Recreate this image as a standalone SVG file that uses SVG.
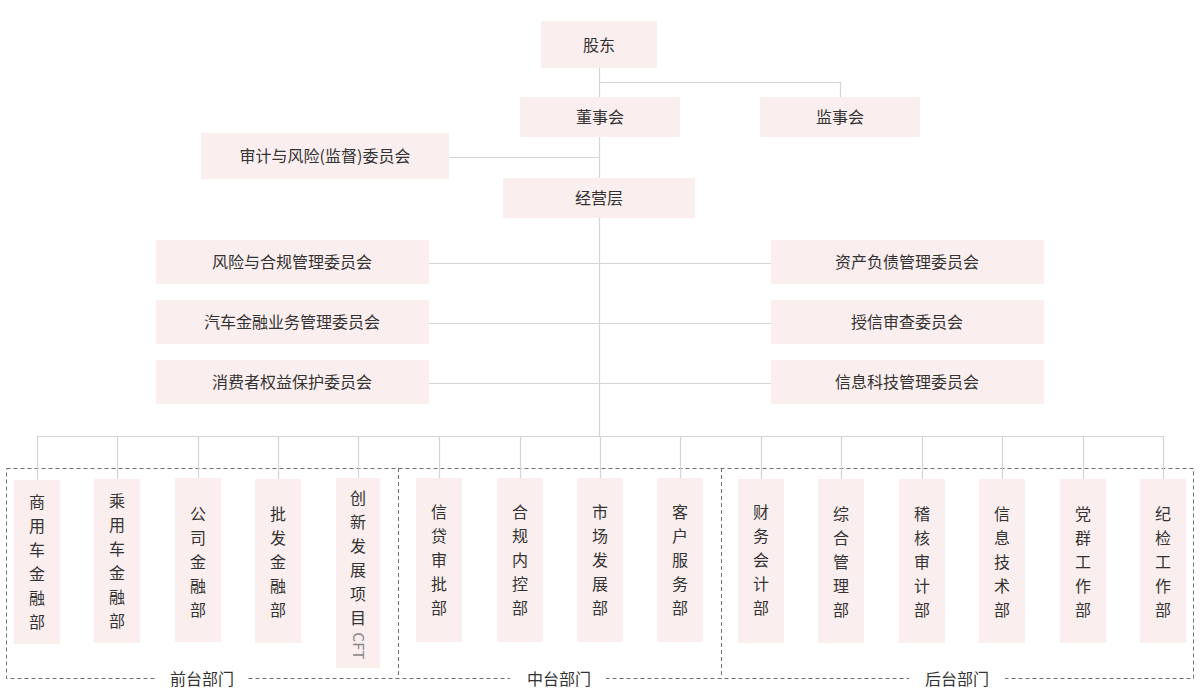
<svg xmlns="http://www.w3.org/2000/svg" width="1200" height="699" viewBox="0 0 1200 699">
<style>
.b{fill:#fbeeee}
.t{font-family:"Noto Sans CJK SC","Noto Sans",sans-serif;font-size:16px;fill:#333;text-anchor:middle}
.v{font-family:"Noto Sans CJK SC","Noto Sans",sans-serif;font-size:16px;fill:#333;text-anchor:middle}
.c{stroke:#d4d4d4;stroke-width:1.2;fill:none}
.d{stroke:#6f6f6f;stroke-width:1;stroke-dasharray:4 3;fill:none}
.g{font-family:"Noto Sans CJK SC","Noto Sans",sans-serif;font-size:16px;fill:#333;text-anchor:middle}
</style>
<rect width="1200" height="699" fill="#fff"/>
<g id="groups">
<rect class="d" x="6.5" y="468.5" width="1187" height="210"/>
<line class="d" x1="398.5" y1="468" x2="398.5" y2="678"/>
<line class="d" x1="721.5" y1="468" x2="721.5" y2="678"/>
<rect x="156" y="670" width="92" height="20" fill="#fff"/>
<rect x="510" y="670" width="96" height="20" fill="#fff"/>
<rect x="909" y="670" width="96" height="20" fill="#fff"/>
<text class="g" x="202" y="685">前台部门</text>
<text class="g" x="559" y="685">中台部门</text>
<text class="g" x="957" y="685">后台部门</text>
</g>
<g id="connectors">
<path class="c" d="M599.5 68V436M599.5 82.5H840.5V97M449 157.5H599M429 263.5H771M429 323.5H771M429 383.5H771M37.5 436.5H1163.5"/>
<path class="c" d="M37.5 436V480M117.5 436V479M198.5 436V478M278.5 436V479M358.5 436V478M439.5 436V478M520.5 436V478M600.5 436V478M680.5 436V478M761.5 436V479M841.5 436V479M922.5 436V479M1002.5 436V479M1083.5 436V479M1163.5 436V479"/>
</g>
<g id="n-gudong"><rect class="b" x="541" y="21" width="116" height="47"/><text class="t" x="599" y="51">股东</text></g>
<g id="n-dongshihui"><rect class="b" x="520" y="97" width="160" height="40"/><text class="t" x="600" y="123">董事会</text></g>
<g id="n-jianshihui"><rect class="b" x="760" y="97" width="160" height="40"/><text class="t" x="840" y="123">监事会</text></g>
<g id="n-shenji"><rect class="b" x="201" y="133" width="248" height="46"/><text class="t" x="325" y="162">审计与风险(监督)委员会</text></g>
<g id="n-jingying"><rect class="b" x="503" y="178" width="192" height="40"/><text class="t" x="599" y="204">经营层</text></g>
<g id="n-fengxian"><rect class="b" x="156" y="240" width="273" height="44"/><text class="t" x="292" y="268">风险与合规管理委员会</text></g>
<g id="n-qiche"><rect class="b" x="156" y="300" width="273" height="44"/><text class="t" x="292" y="328">汽车金融业务管理委员会</text></g>
<g id="n-xiaofei"><rect class="b" x="156" y="360" width="273" height="44"/><text class="t" x="292" y="388">消费者权益保护委员会</text></g>
<g id="n-zichan"><rect class="b" x="771" y="240" width="273" height="44"/><text class="t" x="907" y="268">资产负债管理委员会</text></g>
<g id="n-shouxin"><rect class="b" x="771" y="300" width="273" height="44"/><text class="t" x="907" y="328">授信审查委员会</text></g>
<g id="n-xinxikeji"><rect class="b" x="771" y="360" width="273" height="44"/><text class="t" x="907" y="388">信息科技管理委员会</text></g>

<g id="n-shangyongche"><rect class="b" x="14" y="480" width="46" height="164"/><text class="v" x="37" y="508"><tspan x="37">商</tspan><tspan x="37" dy="24">用</tspan><tspan x="37" dy="24">车</tspan><tspan x="37" dy="24">金</tspan><tspan x="37" dy="24">融</tspan><tspan x="37" dy="24">部</tspan></text></g>
<g id="n-chengyongche"><rect class="b" x="94" y="479" width="46" height="164"/><text class="v" x="117" y="507"><tspan x="117">乘</tspan><tspan x="117" dy="24">用</tspan><tspan x="117" dy="24">车</tspan><tspan x="117" dy="24">金</tspan><tspan x="117" dy="24">融</tspan><tspan x="117" dy="24">部</tspan></text></g>
<g id="n-gongsi"><rect class="b" x="175" y="478" width="46" height="164"/><text class="v" x="198" y="520"><tspan x="198">公</tspan><tspan x="198" dy="24">司</tspan><tspan x="198" dy="24">金</tspan><tspan x="198" dy="24">融</tspan><tspan x="198" dy="24">部</tspan></text></g>
<g id="n-pifa"><rect class="b" x="255" y="479" width="46" height="164"/><text class="v" x="278" y="520"><tspan x="278">批</tspan><tspan x="278" dy="24">发</tspan><tspan x="278" dy="24">金</tspan><tspan x="278" dy="24">融</tspan><tspan x="278" dy="24">部</tspan></text></g>
<g id="n-chuangxin"><rect class="b" x="336" y="478" width="44" height="190"/><text class="v" x="358" y="504"><tspan x="358">创</tspan><tspan x="358" dy="24">新</tspan><tspan x="358" dy="24">发</tspan><tspan x="358" dy="24">展</tspan><tspan x="358" dy="24">项</tspan><tspan x="358" dy="24">目</tspan></text><text transform="translate(353 646) rotate(90)" style="font-family:'Noto Sans CJK SC','Noto Sans',sans-serif;font-size:15px;fill:#888;text-anchor:middle">CFT</text></g>

<g id="n-xindai"><rect class="b" x="416" y="478" width="46" height="164"/><text class="v" x="439" y="518"><tspan x="439">信</tspan><tspan x="439" dy="24">贷</tspan><tspan x="439" dy="24">审</tspan><tspan x="439" dy="24">批</tspan><tspan x="439" dy="24">部</tspan></text></g>
<g id="n-hegui"><rect class="b" x="497" y="478" width="46" height="164"/><text class="v" x="520" y="518"><tspan x="520">合</tspan><tspan x="520" dy="24">规</tspan><tspan x="520" dy="24">内</tspan><tspan x="520" dy="24">控</tspan><tspan x="520" dy="24">部</tspan></text></g>
<g id="n-shichang"><rect class="b" x="577" y="478" width="46" height="164"/><text class="v" x="600" y="518"><tspan x="600">市</tspan><tspan x="600" dy="24">场</tspan><tspan x="600" dy="24">发</tspan><tspan x="600" dy="24">展</tspan><tspan x="600" dy="24">部</tspan></text></g>
<g id="n-kehu"><rect class="b" x="657" y="478" width="46" height="164"/><text class="v" x="680" y="518"><tspan x="680">客</tspan><tspan x="680" dy="24">户</tspan><tspan x="680" dy="24">服</tspan><tspan x="680" dy="24">务</tspan><tspan x="680" dy="24">部</tspan></text></g>

<g id="n-caiwu"><rect class="b" x="738" y="479" width="46" height="164"/><text class="v" x="761" y="518"><tspan x="761">财</tspan><tspan x="761" dy="24">务</tspan><tspan x="761" dy="24">会</tspan><tspan x="761" dy="24">计</tspan><tspan x="761" dy="24">部</tspan></text></g>
<g id="n-zonghe"><rect class="b" x="818" y="479" width="46" height="164"/><text class="v" x="841" y="520"><tspan x="841">综</tspan><tspan x="841" dy="24">合</tspan><tspan x="841" dy="24">管</tspan><tspan x="841" dy="24">理</tspan><tspan x="841" dy="24">部</tspan></text></g>
<g id="n-jihe"><rect class="b" x="899" y="479" width="46" height="164"/><text class="v" x="922" y="520"><tspan x="922">稽</tspan><tspan x="922" dy="24">核</tspan><tspan x="922" dy="24">审</tspan><tspan x="922" dy="24">计</tspan><tspan x="922" dy="24">部</tspan></text></g>
<g id="n-xinxi"><rect class="b" x="979" y="479" width="46" height="164"/><text class="v" x="1002" y="520"><tspan x="1002">信</tspan><tspan x="1002" dy="24">息</tspan><tspan x="1002" dy="24">技</tspan><tspan x="1002" dy="24">术</tspan><tspan x="1002" dy="24">部</tspan></text></g>
<g id="n-dangqun"><rect class="b" x="1060" y="479" width="46" height="164"/><text class="v" x="1083" y="520"><tspan x="1083">党</tspan><tspan x="1083" dy="24">群</tspan><tspan x="1083" dy="24">工</tspan><tspan x="1083" dy="24">作</tspan><tspan x="1083" dy="24">部</tspan></text></g>
<g id="n-jijian"><rect class="b" x="1140" y="479" width="46" height="164"/><text class="v" x="1163" y="520"><tspan x="1163">纪</tspan><tspan x="1163" dy="24">检</tspan><tspan x="1163" dy="24">工</tspan><tspan x="1163" dy="24">作</tspan><tspan x="1163" dy="24">部</tspan></text></g>
</svg>
